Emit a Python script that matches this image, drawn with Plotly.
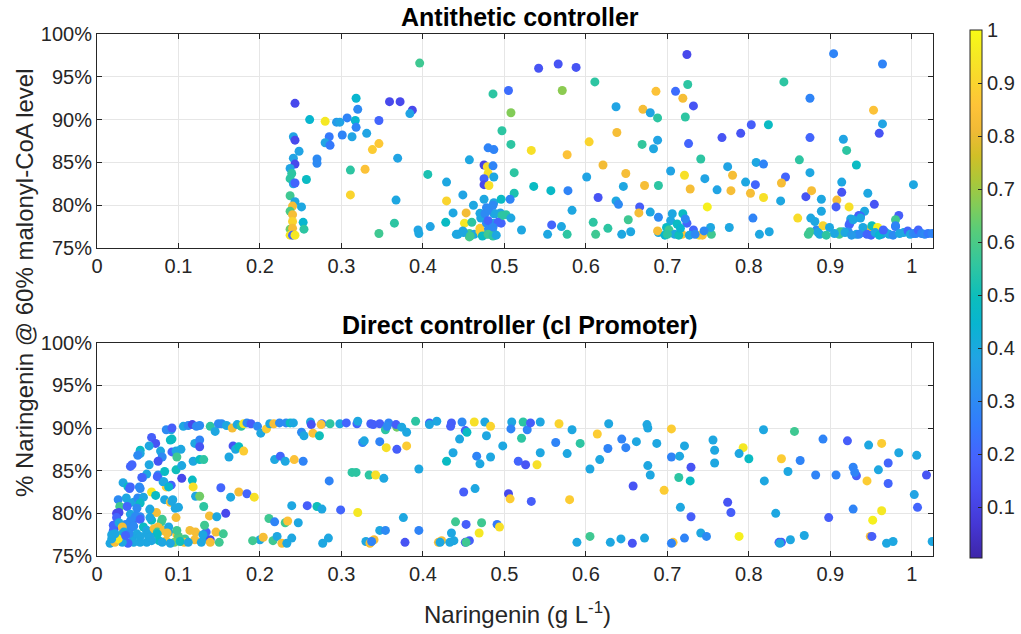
import plotly.graph_objects as go

# ---------------- data: top panel (Antithetic controller) ----------------
top_x = [0.243,0.261,0.241,0.243,0.248,0.241,0.243,0.237,0.239,0.237,0.241,0.243,0.257,0.270,0.270,0.237,0.243,0.251,0.240,0.237,0.240,0.240,0.253,0.254,0.237,0.240,0.237,0.240,0.243,
0.396,0.318,0.359,0.372,0.387,0.384,0.320,0.280,0.294,0.298,0.307,0.317,0.318,0.346,0.285,0.280,0.286,0.301,0.313,0.331,0.338,0.346,0.369,0.311,0.329,0.311,0.367,0.365,0.346,0.394,0.395,0.409,0.406,0.429,0.429,0.449,0.457,0.462,0.437,0.428,0.453,0.451,0.460,0.441,0.449,0.457,0.457,0.463,0.470,0.472,0.471,0.475,0.478,0.475,0.479,0.486,0.480,0.487,0.475,0.475,0.481,0.487,0.480,0.487,0.486,0.497,0.505,0.508,0.508,0.512,0.512,0.507,0.496,0.487,0.495,0.502,0.508,0.496,0.487,0.478,0.480,0.483,0.488,0.477,0.521,0.542,0.566,0.588,0.571,0.611,0.533,0.577,0.604,0.621,0.601,0.536,0.557,0.578,0.615,0.583,0.558,0.570,0.577,0.553,0.609,0.612,0.627,
0.470,0.476,0.481,0.489,0.497,0.480,0.492,0.486,0.470,0.473,0.480,0.486,0.490,0.443,0.450,0.458,0.486,
0.724,0.725,0.686,0.710,0.719,0.732,0.722,0.637,0.670,0.679,0.688,0.638,0.688,0.683,0.669,0.726,0.649,0.646,0.672,0.689,0.704,0.721,0.728,0.741,0.746,0.761,0.749,0.774,0.780,0.778,0.767,0.790,0.803,0.824,0.809,0.818,0.796,0.808,0.802,0.818,0.843,0.875,0.875,0.862,0.875,0.845,0.840,0.839,0.870,0.877,0.889,0.889,0.860,0.876,0.805,0.776,0.825,0.813,0.904,0.964,0.953,0.964,0.960,0.916,0.920,0.932,0.914,0.914,0.908,0.907,0.923,0.946,0.954,0.942,0.934,0.925,0.935,0.923,
0.706,0.719,0.704,0.712,0.699,0.689,0.679,0.689,0.688,0.702,0.718,0.724,0.732,0.739,0.743,0.754,0.753,0.727,0.709,0.666,0.665,0.652,0.655,0.644,0.637,0.640,0.697,0.714,0.734,0.722,0.745,0.700,0.716,
0.873,0.883,0.887,0.891,0.899,0.911,0.916,0.922,0.932,0.940,0.946,0.951,0.958,0.963,0.968,0.881,0.875,0.885,0.912,0.918,0.924,0.928,0.937,0.940,0.935,0.945,0.950,0.972,0.977,0.980,0.984,0.980,0.980,0.937,0.990,0.995,0.998,1.002,1.005,1.008,1.012,1.016,1.020,1.025,1.002,0.955,0.960,0.985,0.905,0.895,0.926,0.965]
top_y = [91.9,90.0,88.0,87.6,86.3,85.5,84.8,84.3,83.7,83.1,82.5,82.6,83.0,85.4,84.9,81.1,80.4,79.8,79.9,79.3,78.9,78.1,78.0,77.2,77.2,77.3,76.5,76.5,76.5,
96.6,92.5,92.1,92.1,91.1,90.7,91.2,89.8,89.7,89.7,90.2,89.9,89.1,89.9,88.0,87.3,87.0,88.2,88.0,88.4,86.5,87.2,85.5,84.1,84.2,81.2,80.6,77.9,76.7,77.1,76.7,77.5,83.6,82.7,80.5,81.2,85.3,80.0,79.1,78.0,79.1,77.9,78.0,76.6,77.0,76.7,76.3,76.6,77.3,76.6,78.5,80.7,79.7,84.7,84.5,84.6,83.7,83.3,83.1,82.4,82.3,80.3,86.7,86.5,93.0,88.7,93.4,90.8,87.1,83.8,81.4,80.7,80.7,79.0,79.1,78.9,78.5,77.9,77.9,77.9,77.1,76.6,76.6,76.6,77.1,96.0,96.5,96.1,93.4,94.4,86.4,85.9,87.4,84.7,83.3,82.2,81.7,81.7,80.9,79.4,77.7,77.5,76.6,76.6,78.0,76.6,77.3,
79.05,79.0,79.4,79.0,78.8,78.2,78.0,77.4,77.0,76.4,76.6,76.4,76.5,76.6,76.8,76.4,80.0,
97.6,94.1,93.3,93.3,92.5,91.6,90.3,91.5,91.2,90.8,90.2,88.5,87.6,86.6,87.1,87.2,83.7,82.2,82.3,82.3,84.0,83.5,81.9,85.4,83.1,81.8,79.8,84.5,83.5,81.7,87.9,88.4,89.4,89.4,85.0,84.8,82.7,82.4,81.4,80.9,94.4,92.5,87.9,85.3,83.8,83.3,82.6,80.5,81.0,81.7,80.7,79.3,78.5,78.5,78.5,77.4,76.9,76.6,97.7,96.5,91.1,89.5,88.4,87.7,86.4,84.7,82.7,81.5,80.6,79.8,79.8,81.4,80.1,79.3,78.6,78.4,78.8,77.7,
79.0,79.0,78.2,77.8,77.4,78.6,79.2,76.8,77.0,77.1,76.6,77.9,77.1,76.5,76.5,76.6,77.4,76.5,76.6,79.8,79.1,78.3,76.9,76.6,80.5,80.1,76.5,76.5,76.6,78.4,77.0,76.6,77.3,
76.6,77.1,76.6,77.6,77.4,76.6,76.9,76.9,76.6,76.8,77.1,77.6,77.4,76.6,76.8,78.1,76.9,76.8,76.9,76.8,77.9,78.3,78.7,77.4,76.6,76.6,76.5,76.6,76.5,77.5,78.8,78.3,77.6,78.5,76.8,77.0,76.6,76.7,76.7,77.1,76.7,76.6,76.7,76.7,82.4,76.8,76.5,76.7,76.7,76.5,76.5,77.1]
top_c = [0.12,0.45,0.38,0.12,0.38,0.38,0.12,0.38,0.55,0.55,0.38,0.20,0.48,0.30,0.30,0.58,0.39,0.39,0.83,0.60,0.83,0.90,0.45,0.55,0.65,0.83,0.95,0.20,0.95,
0.58,0.45,0.12,0.12,0.12,0.38,0.30,0.95,0.35,0.38,0.28,0.45,0.28,0.20,0.25,0.38,0.25,0.28,0.38,0.38,0.88,0.87,0.38,0.55,0.85,0.90,0.39,0.55,0.58,0.38,0.39,0.38,0.52,0.39,0.90,0.38,0.39,0.39,0.39,0.48,0.82,0.95,0.55,0.39,0.38,0.58,0.60,0.39,0.88,0.93,0.39,0.39,0.30,0.10,0.92,0.28,0.93,0.39,0.20,0.12,0.93,0.38,0.28,0.28,0.55,0.55,0.22,0.67,0.55,0.55,0.52,0.28,0.48,0.39,0.38,0.55,0.39,0.20,0.39,0.30,0.30,0.58,0.55,0.39,0.39,0.15,0.15,0.15,0.68,0.55,0.93,0.85,0.90,0.82,0.38,0.48,0.47,0.28,0.15,0.39,0.20,0.39,0.55,0.39,0.55,0.58,0.55,
0.39,0.30,0.30,0.39,0.55,0.20,0.20,0.30,0.88,0.48,0.58,0.55,0.39,0.39,0.39,0.58,0.30,
0.12,0.55,0.85,0.22,0.83,0.15,0.55,0.38,0.83,0.38,0.55,0.83,0.38,0.39,0.56,0.20,0.83,0.39,0.83,0.55,0.38,0.93,0.83,0.55,0.38,0.38,0.97,0.38,0.83,0.83,0.15,0.15,0.18,0.48,0.39,0.28,0.39,0.20,0.83,0.93,0.55,0.28,0.20,0.55,0.39,0.20,0.83,0.39,0.15,0.83,0.39,0.39,0.92,0.39,0.28,0.39,0.39,0.39,0.28,0.28,0.85,0.38,0.15,0.38,0.55,0.48,0.39,0.15,0.83,0.18,0.93,0.39,0.15,0.39,0.39,0.39,0.18,0.20,
0.39,0.48,0.39,0.48,0.48,0.30,0.39,0.39,0.83,0.58,0.85,0.20,0.20,0.93,0.85,0.58,0.39,0.39,0.39,0.18,0.83,0.58,0.39,0.39,0.39,0.30,0.45,0.50,0.30,0.30,0.30,0.55,0.45,
0.58,0.30,0.39,0.90,0.39,0.58,0.39,0.30,0.39,0.30,0.83,0.50,0.97,0.30,0.39,0.39,0.58,0.39,0.58,0.39,0.20,0.39,0.20,0.39,0.30,0.20,0.20,0.39,0.30,0.20,0.18,0.58,0.28,0.39,0.39,0.20,0.39,0.30,0.28,0.20,0.28,0.30,0.25,0.28,0.39,0.39,0.45,0.39,0.39,0.55,0.35,0.20]

# ---------------- data: bottom panel (Direct controller) ----------------
bot_x = [0.091,0.085,0.092,0.106,0.112,0.117,0.122,0.126,0.139,0.145,0.149,0.153,0.159,0.166,0.172,0.177,0.180,0.184,0.189,0.197,0.201,0.208,0.212,0.217,0.224,0.232,0.237,0.241,0.251,0.254,0.262,0.263,0.265,0.273,0.276,0.275,0.286,0.298,0.306,
0.067,0.072,0.064,0.078,0.080,0.075,0.053,0.053,0.050,0.064,0.043,0.041,0.061,0.056,0.075,0.083,0.081,0.085,0.091,0.092,0.090,0.092,0.097,0.103,0.098,0.097,0.104,0.104,0.117,0.118,0.126,0.131,0.120,0.126,0.126,0.118,0.121,0.126,0.131,0.138,0.147,0.158,0.152,0.164,0.167,0.170,0.174,0.180,0.162,0.174,0.184,0.193,0.218,0.225,0.231,0.242,0.253,0.285,0.239,0.258,0.270,0.276,0.299,0.211,0.218,0.231,0.234,0.247,0.200,0.204,0.191,0.216,0.221,0.227,0.233,0.239,0.277,0.284,0.114,0.108,0.120,0.128,0.132,0.139,0.139,0.146,0.150,0.155,0.134,
0.016,0.020,0.022,0.024,0.026,0.032,0.038,0.040,0.036,0.028,0.045,0.050,0.053,0.057,0.067,0.072,0.065,0.073,0.067,0.079,0.083,0.090,0.093,0.100,0.097,0.053,0.045,0.043,0.048,0.032,0.040,0.044,0.030,0.044,0.061,0.068,0.075,0.081,0.088,0.073,0.076,0.085,0.098,0.100,0.095,0.107,0.067,0.061,0.053,0.045,0.038,0.031,0.022,0.026,0.018,
0.055,0.074,0.041,0.052,0.082,0.088,0.039,0.053,0.037,0.049,0.065,0.092,0.096,0.065,0.080,0.027,0.024,0.041,0.047,0.053,0.041,0.045,0.035,0.020,0.027,0.020,0.022,0.018,0.031,0.033,0.057,0.061,0.070,0.074,0.082,0.088,0.098,0.121,0.130,0.132,0.086,0.074,0.061,0.049,0.039,0.035,0.065,0.053,0.080,0.090,0.102,0.112,
0.319,0.320,0.336,0.339,0.347,0.354,0.358,0.356,0.368,0.367,0.374,0.380,0.391,0.408,0.408,0.417,0.435,0.434,0.448,0.452,0.454,0.463,0.476,0.483,0.478,0.509,0.508,0.523,0.528,0.532,0.544,0.567,0.583,0.614,0.628,0.521,0.563,0.593,0.577,0.627,0.617,0.605,0.326,0.328,0.347,0.355,0.368,0.380,0.445,0.437,0.429,0.466,0.470,0.483,0.498,0.544,0.517,0.526,0.540,0.313,0.318,0.334,0.342,0.352,0.395,0.450,0.464,0.505,0.507,0.533,0.580,0.320,0.376,0.440,0.453,0.472,0.491,0.494,0.469,0.435,0.395,0.347,0.354,0.330,0.335,0.340,0.337,0.378,0.419,0.423,0.421,0.433,0.438,0.452,0.457,0.453,0.589,0.605,0.630,
0.644,0.649,0.662,0.675,0.676,0.687,0.676,0.679,0.658,0.696,0.705,0.705,0.715,0.721,0.729,0.714,0.728,0.716,0.729,0.741,0.748,0.721,0.707,0.705,0.643,0.657,0.672,0.756,0.758,0.758,0.774,0.778,0.788,0.793,0.788,0.800,0.818,0.856,0.840,0.863,0.848,0.819,0.833,0.837,0.840,0.838,0.851,0.868,0.891,0.882,0.898,0.907,0.921,0.928,0.932,0.930,0.947,0.963,0.959,0.971,0.971,0.945,0.928,0.963,0.952,0.949,0.951,0.969,
0.984,1.006,1.018,1.003,1.007,0.977,1.025]
bot_y = [89.8,89.8,90.0,90.2,90.3,90.4,90.2,90.3,90.2,89.6,90.5,90.5,90.3,90.0,90.4,90.2,90.5,90.6,90.5,90.2,89.4,89.9,90.5,90.5,90.6,90.6,90.6,90.6,89.5,89.1,90.7,90.4,89.4,89.1,90.5,90.4,90.5,90.5,90.6,
88.9,88.2,87.9,87.3,86.6,86.1,87.4,87.0,86.8,85.7,85.7,85.5,84.6,84.2,84.5,84.9,83.7,83.1,83.3,88.7,88.6,87.2,87.3,87.5,86.6,85.1,85.6,84.1,83.9,86.1,86.3,86.3,88.2,88.6,87.8,83.1,82.0,82.0,80.8,79.7,79.6,80.0,83.0,81.9,87.9,87.5,87.8,87.3,86.6,82.5,82.3,81.9,86.3,86.7,86.1,86.3,86.1,83.8,80.9,80.9,80.8,80.5,80.4,79.4,79.0,78.9,79.1,78.9,76.9,77.2,76.8,76.8,77.3,76.5,76.5,77.1,76.5,77.1,78.0,77.0,76.9,76.6,77.0,76.9,76.6,77.8,76.6,77.6,77.8,
76.5,77.5,78.4,80.0,81.6,83.6,83.1,82.9,81.8,80.8,81.3,81.8,82.9,81.9,82.5,82.1,80.4,80.1,79.2,79.0,81.6,81.3,81.6,80.7,79.5,79.6,79.3,79.0,79.7,78.0,78.2,78.4,77.5,77.3,78.0,77.8,78.4,78.0,77.8,77.1,76.8,76.8,77.5,77.3,76.6,76.6,76.8,76.6,76.6,76.6,76.5,76.6,76.6,77.0,77.0,
84.2,84.3,83.1,83.1,83.7,83.1,81.2,81.2,80.8,80.6,80.5,81.4,80.6,79.5,79.3,80.1,79.5,79.9,79.6,79.3,79.1,78.5,78.7,78.6,78.9,78.0,77.6,77.5,78.4,77.8,78.4,78.0,78.2,77.8,78.0,78.4,78.0,77.8,77.5,78.6,77.7,77.6,77.6,77.6,77.6,77.4,77.2,77.3,76.6,76.5,76.7,76.6,
90.5,90.8,90.5,90.4,90.5,89.8,90.6,90.2,90.1,90.4,90.1,89.5,90.8,90.6,90.4,90.8,90.6,90.2,90.7,89.7,89.5,90.7,90.7,90.2,89.1,90.7,89.9,90.7,89.8,90.6,90.7,90.5,89.8,89.3,90.5,88.8,88.3,88.2,87.0,87.6,86.3,85.2,88.3,88.5,88.4,87.7,87.5,87.9,88.7,87.1,86.1,86.7,85.8,86.6,87.9,87.1,86.1,85.7,85.7,84.8,84.8,84.5,84.5,84.1,85.2,82.5,82.9,82.3,81.7,81.4,81.6,80.1,79.5,79.0,78.7,78.9,78.7,78.4,77.7,77.7,78.0,78.0,78.0,76.7,76.5,76.9,76.7,76.6,76.6,76.8,76.6,76.6,76.8,76.6,76.8,76.6,76.6,77.3,76.6,
88.7,87.7,88.4,90.4,90.0,88.2,85.6,84.5,83.2,82.7,89.9,86.6,86.7,87.9,85.4,84.2,83.8,80.7,79.6,77.7,77.3,77.1,76.6,76.5,77.0,76.5,77.1,88.6,87.4,85.9,81.3,80.1,77.3,87.7,87.0,86.4,89.8,89.6,86.4,86.2,84.9,83.8,80.0,76.6,76.6,76.5,76.9,77.4,88.7,84.5,79.5,84.5,88.5,85.4,84.4,84.8,88.0,88.2,85.1,85.9,83.5,83.8,80.5,80.3,79.2,77.3,77.3,76.5,
87.1,86.8,84.5,82.2,80.7,76.7,76.7]
bot_c = [0.39,0.30,0.18,0.39,0.30,0.12,0.30,0.30,0.55,0.39,0.30,0.30,0.39,0.83,0.39,0.55,0.95,0.30,0.18,0.30,0.39,0.88,0.39,0.83,0.30,0.30,0.48,0.39,0.30,0.39,0.39,0.15,0.85,0.50,0.25,0.85,0.55,0.39,0.20,
0.18,0.15,0.39,0.39,0.30,0.15,0.48,0.39,0.30,0.39,0.20,0.20,0.39,0.30,0.30,0.48,0.39,0.88,0.20,0.50,0.48,0.20,0.39,0.39,0.58,0.50,0.39,0.12,0.48,0.39,0.48,0.55,0.39,0.28,0.15,0.93,0.39,0.65,0.55,0.83,0.39,0.12,0.20,0.39,0.15,0.39,0.48,0.88,0.39,0.83,0.20,0.93,0.39,0.20,0.39,0.85,0.28,0.28,0.39,0.18,0.50,0.39,0.20,0.58,0.28,0.58,0.85,0.39,0.39,0.83,0.58,0.58,0.39,0.83,0.39,0.39,0.39,0.39,0.83,0.58,0.83,0.39,0.39,0.12,0.83,0.83,0.58,0.58,0.20,
0.39,0.18,0.12,0.12,0.30,0.39,0.48,0.20,0.39,0.58,0.39,0.30,0.30,0.39,0.95,0.48,0.48,0.83,0.48,0.58,0.39,0.83,0.39,0.39,0.83,0.30,0.39,0.20,0.30,0.30,0.30,0.28,0.58,0.39,0.39,0.39,0.83,0.83,0.39,0.83,0.48,0.83,0.83,0.60,0.65,0.83,0.39,0.39,0.39,0.39,0.20,0.39,0.83,0.95,0.39,
0.20,0.20,0.20,0.30,0.39,0.45,0.39,0.48,0.20,0.30,0.39,0.39,0.39,0.39,0.58,0.12,0.20,0.39,0.30,0.20,0.30,0.30,0.30,0.20,0.39,0.20,0.39,0.39,0.83,0.39,0.48,0.39,0.83,0.58,0.83,0.39,0.58,0.83,0.39,0.58,0.83,0.48,0.39,0.39,0.30,0.20,0.39,0.39,0.39,0.39,0.50,0.39,
0.20,0.39,0.18,0.18,0.18,0.55,0.28,0.30,0.65,0.18,0.39,0.39,0.55,0.18,0.39,0.39,0.18,0.18,0.30,0.18,0.48,0.93,0.39,0.90,0.39,0.39,0.28,0.55,0.28,0.18,0.39,0.90,0.39,0.88,0.39,0.55,0.28,0.55,0.39,0.28,0.39,0.39,0.28,0.39,0.28,0.93,0.18,0.88,0.39,0.39,0.48,0.28,0.39,0.39,0.39,0.39,0.20,0.15,0.93,0.55,0.55,0.55,0.93,0.39,0.39,0.18,0.39,0.12,0.88,0.18,0.88,0.95,0.39,0.58,0.18,0.58,0.25,0.93,0.95,0.39,0.28,0.39,0.30,0.39,0.83,0.83,0.28,0.15,0.83,0.83,0.39,0.39,0.39,0.15,0.18,0.58,0.39,0.58,0.39,
0.28,0.28,0.39,0.39,0.39,0.39,0.39,0.39,0.15,0.88,0.88,0.28,0.39,0.39,0.15,0.55,0.48,0.39,0.18,0.39,0.30,0.28,0.85,0.28,0.39,0.15,0.39,0.39,0.39,0.39,0.15,0.18,0.97,0.95,0.39,0.48,0.39,0.58,0.88,0.28,0.39,0.39,0.39,0.18,0.18,0.39,0.39,0.39,0.28,0.28,0.18,0.28,0.18,0.28,0.18,0.28,0.39,0.88,0.39,0.20,0.20,0.88,0.28,0.95,0.97,0.85,0.18,0.39,
0.39,0.39,0.15,0.38,0.20,0.39,0.39]

x_ticks = [0, 0.1, 0.2, 0.3, 0.4, 0.5, 0.6, 0.7, 0.8, 0.9, 1.0]
x_tick_text = ["0", "0.1", "0.2", "0.3", "0.4", "0.5", "0.6", "0.7", "0.8", "0.9", "1"]
y_ticks = [75, 80, 85, 90, 95, 100]
y_tick_text = ["75%", "80%", "85%", "90%", "95%", "100%"]
cb_ticks = [0.1, 0.2, 0.3, 0.4, 0.5, 0.6, 0.7, 0.8, 0.9, 1.0]
cb_tick_text = ["0.1", "0.2", "0.3", "0.4", "0.5", "0.6", "0.7", "0.8", "0.9", "1"]

# parula colormap (sampled)
parula_rgb = [
    (0.2422, 0.1504, 0.6603), (0.2706, 0.2147, 0.8364), (0.2813, 0.3006, 0.9414),
    (0.2699, 0.3892, 0.9906), (0.1963, 0.4847, 0.9892), (0.1687, 0.5703, 0.9359),
    (0.1248, 0.6459, 0.8883), (0.0297, 0.7082, 0.8163), (0.0433, 0.7411, 0.7394),
    (0.1938, 0.7758, 0.6251), (0.3406, 0.8008, 0.4789), (0.5044, 0.7993, 0.3480),
    (0.6720, 0.7793, 0.2227), (0.8203, 0.7498, 0.1535), (0.9393, 0.7288, 0.2100),
    (0.9970, 0.7659, 0.2199), (0.9786, 0.8386, 0.1766), (0.9597, 0.9135, 0.1423),
    (0.9769, 0.9839, 0.0805)]
parula_pos = [0, 4, 8, 12, 16, 20, 24, 28, 31, 35, 39, 42, 45, 48, 51, 54, 57, 60, 63]
colorscale = [[p / 63, "rgb(%d,%d,%d)" % tuple(round(v * 255) for v in c)]
              for p, c in zip(parula_pos, parula_rgb)]

CMIN, CMAX = 0.004, 1.0
TXT = "#262626"
FONT = "Liberation Sans, Arial, sans-serif"
MS = 9

fig = go.Figure()
fig.add_trace(go.Scatter(
    x=top_x, y=top_y, mode="markers", xaxis="x", yaxis="y", showlegend=False,
    marker=dict(size=MS, color=top_c, colorscale=colorscale, cmin=CMIN, cmax=CMAX,
                line=dict(width=0), showscale=False)))
fig.add_trace(go.Scatter(
    x=bot_x, y=bot_y, mode="markers", xaxis="x2", yaxis="y2", showlegend=False,
    marker=dict(size=MS, color=bot_c, colorscale=colorscale, cmin=CMIN, cmax=CMAX,
                line=dict(width=0), showscale=True,
                colorbar=dict(x=1.0443, xanchor="left", xref="paper", xpad=0, ypad=0,
                              y=0.5019, yanchor="middle", len=1.0115, lenmode="fraction",
                              thickness=12, outlinewidth=1, outlinecolor=TXT,
                              tickvals=cb_ticks, ticktext=cb_tick_text,
                              ticks="inside", ticklen=4, tickcolor=TXT,
                              tickfont=dict(size=20, color=TXT, family=FONT)))))

ax_common = dict(showline=True, linecolor=TXT, linewidth=1, mirror="ticks",
                 ticks="inside", ticklen=5, tickcolor=TXT, showgrid=True,
                 gridcolor="#e6e6e6", gridwidth=1, zeroline=False,
                 tickfont=dict(size=20, color=TXT, family=FONT))

fig.update_layout(
    width=1021, height=634, autosize=False,
    margin=dict(l=97, r=88, t=34, b=78, autoexpand=False),
    paper_bgcolor="white", plot_bgcolor="white",
    font=dict(family=FONT, color=TXT),
    xaxis=dict(domain=[0, 1], range=[0, 1.026], anchor="y",
               tickvals=x_ticks, ticktext=x_tick_text, **ax_common),
    yaxis=dict(domain=[0.590, 1], range=[75, 100], anchor="x",
               tickvals=y_ticks, ticktext=y_tick_text, **ax_common),
    xaxis2=dict(domain=[0, 1], range=[0, 1.026], anchor="y2",
                tickvals=x_ticks, ticktext=x_tick_text, **ax_common),
    yaxis2=dict(domain=[0, 0.4086], range=[75, 100], anchor="x2",
                tickvals=y_ticks, ticktext=y_tick_text, **ax_common),
    annotations=[
        dict(text="<b>Antithetic controller</b>", xref="paper", yref="paper",
             x=0.506, y=1.0326, xanchor="center", yanchor="middle", showarrow=False,
             font=dict(size=25, color="black", family=FONT)),
        dict(text="<b>Direct controller (cI Promoter)</b>", xref="paper", yref="paper",
             x=0.506, y=0.4425, xanchor="center", yanchor="middle", showarrow=False,
             font=dict(size=25, color="black", family=FONT)),
        dict(text="Naringenin (g L<sup>-1</sup>)", xref="paper", yref="paper",
             x=0.5024, y=-0.109, xanchor="center", yanchor="middle", showarrow=False,
             font=dict(size=24, color=TXT, family=FONT)),
        dict(text="% Naringenin @ 60% malonyl-CoA level", xref="paper", yref="paper",
             x=-0.0861, y=0.523, xanchor="center", yanchor="middle", showarrow=False,
             textangle=-90, font=dict(size=24, color=TXT, family=FONT)),
    ],
)

fig.write_html("out.html", config={"displayModeBar": False},
               post_script="document.body.style.margin='0px';document.body.style.overflow='hidden';")
